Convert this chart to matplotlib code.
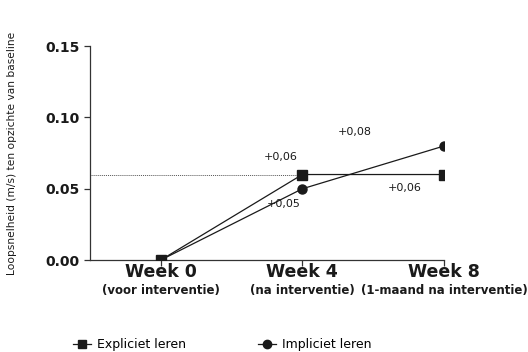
import numpy as np
import matplotlib
matplotlib.use("Agg")
import matplotlib.pyplot as plt
from matplotlib.lines import Line2D

weeks = ["Week 0", "Week 4", "Week 8"]
sublabels = ["(voor interventie)", "(na interventie)", "(1-maand na interventie)"]
expliciet = [0.0, 0.06, 0.06]
impliciet = [0.0, 0.05, 0.08]
yticks = [0.00, 0.05, 0.10, 0.15]
ref_level = 0.06

col = "#1a1a1a"
fig = plt.figure(figsize=(5.28, 3.52), dpi=100)
ax = fig.add_axes([0.170, 0.261, 0.671, 0.608])
x = np.arange(len(weeks))

ax.plot([-0.5, x[1]], [ref_level, ref_level], ls=(0, (1, 1)), color="#555555", lw=0.7)
ax.plot(x, expliciet, color=col, lw=0.9, marker="s", ms=6.5, zorder=3)
ax.plot(x, impliciet, color=col, lw=0.9, marker="o", ms=6.5, zorder=3)

# annotations
ax.text(0.85, 0.0722, "+0,06", fontsize=8, color=col, ha="center", va="center")
ax.text(0.87, 0.0393, "+0,05", fontsize=8, color=col, ha="center", va="center")
ax.text(1.37, 0.0897, "+0,08", fontsize=8, color=col, ha="center", va="center")
ax.text(1.72, 0.0505, "+0,06", fontsize=8, color=col, ha="center", va="center")

ax.set_xlim(-0.5, 2)
ax.set_ylim(0, 0.15)
ax.set_yticks(yticks)
ax.set_yticklabels(["%.2f" % v for v in yticks], fontweight="bold", fontsize=10)
ax.set_xticks(x)
ax.set_xticklabels([])
for xi, w, s in zip(x, weeks, sublabels):
    ax.text(xi, -0.002, w, transform=ax.transData, ha="center", va="top",
            fontsize=12.5, fontweight="bold", color=col)
    ax.text(xi, -0.0165, s, transform=ax.transData, ha="center", va="top",
            fontsize=8.5, fontweight="bold", color=col)

for sp in ["top", "right"]:
    ax.spines[sp].set_visible(False)
for sp in ["left", "bottom"]:
    ax.spines[sp].set_color("#333333")
    ax.spines[sp].set_linewidth(0.9)
ax.tick_params(colors="#333333", length=4, width=0.9, labelcolor=col)
ax.set_ylabel("Loopsnelheid (m/s) ten opzichte van baseline", fontsize=7.7, color=col, labelpad=20)

handles = [Line2D([], [], color=col, lw=0.9, marker="s", ms=6),
           Line2D([], [], color=col, lw=0.9, marker="o", ms=6)]
fig.legend(handles, ["Expliciet leren", "Impliciet leren"], loc="center",
           bbox_to_anchor=(0.421, 0.02), ncol=2, frameon=False, fontsize=9,
           handlelength=1.4, columnspacing=5.8, handletextpad=0.5)

fig.savefig("out.png", dpi=100)
